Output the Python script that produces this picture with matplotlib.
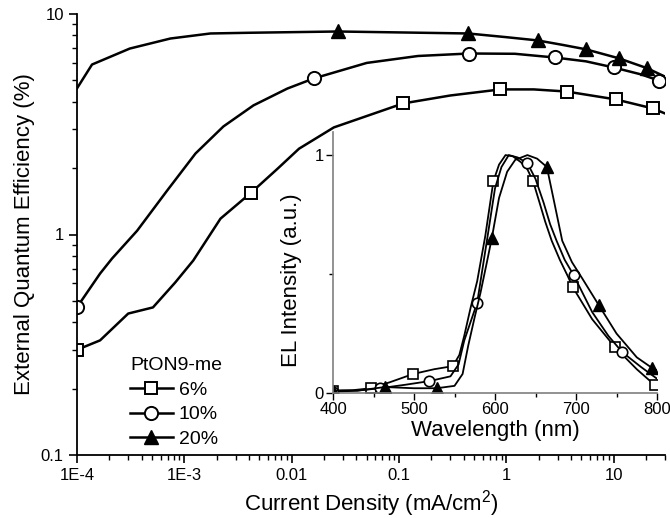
import numpy as np
import matplotlib
matplotlib.use('Agg')
import matplotlib.pyplot as plt
from matplotlib.ticker import LogLocator, FixedLocator, FuncFormatter, NullFormatter

plt.rcParams['font.family'] = ['Liberation Sans', 'DejaVu Sans']
plt.rcParams['mathtext.fontset'] = 'custom'
plt.rcParams['mathtext.rm'] = 'Liberation Sans'

# main plot: EQE vs current density
x6 = [1e-4, 1.64e-4, 3e-4, 5.1e-4, 8.2e-4, 1.21e-3, 2.17e-3, 4.2e-3, 7.4e-3, 0.0117, 0.0247,
      0.109, 0.3, 0.88, 1.8, 3.64, 10.4, 23.1, 30]
y6 = [0.30, 0.331, 0.438, 0.467, 0.605, 0.762, 1.18, 1.55, 1.99, 2.45, 3.06,
      3.93, 4.27, 4.55, 4.55, 4.45, 4.1, 3.73, 3.54]
mk6 = [0, 7, 11, 13, 15, 16, 17]

x10 = [1e-4, 1.64e-4, 2.12e-4, 3.63e-4, 6.9e-4, 1.27e-3, 2.31e-3, 4.4e-3, 9.1e-3, 0.016,
       0.05, 0.15, 0.45, 1.2, 2.81, 5.5, 10, 18, 26.3, 30]
y10 = [0.468, 0.665, 0.778, 1.04, 1.58, 2.33, 3.09, 3.85, 4.59, 5.1,
       6.0, 6.45, 6.62, 6.6, 6.35, 6.1, 5.72, 5.32, 4.99, 4.85]
mk10 = [0, 9, 12, 14, 16, 18]

x20 = [1e-4, 1.38e-4, 3.1e-4, 7.4e-4, 1.75e-3, 4e-3, 0.027, 0.1, 0.44, 1.0,
       1.95, 3.3, 5.47, 11.1, 20.4, 30]
y20 = [4.6, 5.9, 6.97, 7.74, 8.16, 8.22, 8.33, 8.25, 8.16, 7.85,
       7.59, 7.25, 6.92, 6.3, 5.68, 5.2]
mk20 = [6, 8, 10, 12, 13, 14]

# inset: EL spectra
wl6 = [400, 425, 447, 470, 499, 525, 548, 556, 562, 570, 578, 588, 598, 605, 613, 622, 632,
       640, 647, 655, 662, 670, 680, 690, 696, 720, 748, 775, 797, 800]
el6 = [0.01, 0.012, 0.02, 0.045, 0.08, 0.10, 0.113, 0.16, 0.24, 0.36, 0.47, 0.66, 0.89, 0.96, 1.0,
       0.995, 0.97, 0.94, 0.89, 0.80, 0.72, 0.64, 0.56, 0.49, 0.445, 0.31, 0.193, 0.10, 0.034, 0.03]
emk6 = [0, 2, 4, 6, 12, 18, 24, 26, 28]

wl10 = [400, 430, 458, 490, 519, 545, 555, 562, 570, 578, 590, 600, 608, 617, 628, 640, 650,
        660, 668, 676, 686, 697, 720, 740, 757, 780, 800]
el10 = [0.005, 0.01, 0.02, 0.035, 0.05, 0.07, 0.12, 0.22, 0.30, 0.38, 0.64, 0.86, 0.95, 1.0,
        0.99, 0.966, 0.90, 0.80, 0.71, 0.64, 0.56, 0.496, 0.34, 0.24, 0.172, 0.11, 0.06]
emk10 = [0, 2, 4, 9, 15, 21, 24]

wl20 = [400, 430, 464, 500, 528, 550, 560, 567, 575, 582, 590, 596, 605, 615, 625, 640, 652,
        664, 672, 683, 695, 708, 728, 750, 775, 794, 800]
el20 = [0.01, 0.01, 0.025, 0.02, 0.02, 0.03, 0.08, 0.2, 0.32, 0.42, 0.55, 0.65, 0.82, 0.93,
        0.98, 1.0, 0.985, 0.95, 0.82, 0.64, 0.55, 0.48, 0.37, 0.25, 0.15, 0.105, 0.095]
emk20 = [0, 2, 4, 11, 17, 22, 25]

labels = ['6%', '10%', '20%']
xtick_labels = ['1E-4', '1E-3', '0.01', '0.1', '1', '10']

fig = plt.figure(figsize=(6.7, 5.18), dpi=100)
ax = fig.add_axes([77/670, 63/518, 588/670, 441/518])

lw = 1.8
ms = 9
ax.plot(x6, y6, color='black', lw=lw, marker='s', ms=ms, mfc='white', mec='black', mew=1.4,
        markevery=mk6, label=labels[0])
ax.plot(x10, y10, color='black', lw=lw, marker='o', ms=ms + 0.5, mfc='white', mec='black', mew=1.4,
        markevery=mk10, label=labels[1])
ax.plot(x20, y20, color='black', lw=lw, marker='^', ms=ms + 1.5, mfc='black', mec='black',
        markevery=mk20, label=labels[2])

ax.set_xscale('log')
ax.set_yscale('log')
ax.set_xlim(1e-4, 30)
ax.set_ylim(0.1, 10)
ax.xaxis.set_major_locator(FixedLocator([1e-4, 1e-3, 1e-2, 1e-1, 1, 10]))
ax.xaxis.set_major_formatter(FuncFormatter(lambda v, p: xtick_labels[int(round(np.log10(v))) + 4]))
ax.xaxis.set_minor_locator(LogLocator(base=10, subs=np.arange(2, 10), numticks=20))
ax.xaxis.set_minor_formatter(NullFormatter())
ax.yaxis.set_major_locator(FixedLocator([0.1, 1, 10]))
ax.yaxis.set_major_formatter(FuncFormatter(lambda v, p: '%g' % v))
ax.yaxis.set_minor_locator(LogLocator(base=10, subs=np.arange(2, 10), numticks=20))
ax.yaxis.set_minor_formatter(NullFormatter())
ax.tick_params(which='major', direction='out', length=6, width=1.2, labelsize=12)
ax.tick_params(which='minor', direction='out', length=3.5, width=1.0)
for s in ['top', 'right']:
    ax.spines[s].set_visible(False)
for s in ['left', 'bottom']:
    ax.spines[s].set_linewidth(1.3)

ax.set_xlabel('Current Density (mA/cm$^2$)', fontsize=16)
ax.set_ylabel('External Quantum Efficiency (%)', fontsize=16)
ax.xaxis.set_label_coords(0.5, -0.075)
ax.yaxis.set_label_coords(-0.072, 0.5)

leg = ax.legend(loc='upper left', bbox_to_anchor=(0.09, 0.222), frameon=False, fontsize=14,
                title='PtON9-me', title_fontsize=14, alignment='left', handlelength=2.2,
                handletextpad=0.3, labelspacing=0.36, borderpad=0, borderaxespad=0)

# inset
axin = fig.add_axes([333/670, 125/518, 324/670, 261/518])
axin.plot(wl6, el6, color='black', lw=1.3, marker='s', ms=7, mfc='white', mec='black', mew=1.2,
          markevery=emk6)
axin.plot(wl10, el10, color='black', lw=1.3, marker='o', ms=7.5, mfc='white', mec='black', mew=1.2,
          markevery=emk10)
axin.plot(wl20, el20, color='black', lw=1.3, marker='^', ms=8, mfc='black', mec='black',
          markevery=emk20)
axin.set_xlim(400, 800)
axin.set_ylim(0, 1.097)
axin.set_xticks([400, 500, 600, 700, 800])
axin.set_xticks([450, 550, 650, 750], minor=True)
axin.set_yticks([0, 1])
axin.set_yticks([0.5], minor=True)
axin.set_yticklabels(['0', '1'])
axin.tick_params(which='major', direction='out', length=5, width=1.0, labelsize=12, pad=1.5)
axin.tick_params(which='minor', direction='out', length=3, width=1.0)
axin.patch.set_alpha(0)
for s in ['top', 'right']:
    axin.spines[s].set_visible(False)
for s in ['left', 'bottom']:
    axin.spines[s].set_color('#7f7f7f')
    axin.spines[s].set_linewidth(1.2)
axin.set_xlabel('Wavelength (nm)', fontsize=16, labelpad=2)
axin.set_ylabel('EL Intensity (a.u.)', fontsize=16)
axin.yaxis.set_label_coords(-0.096, 0.433)

plt.savefig('out.png', dpi=100)
